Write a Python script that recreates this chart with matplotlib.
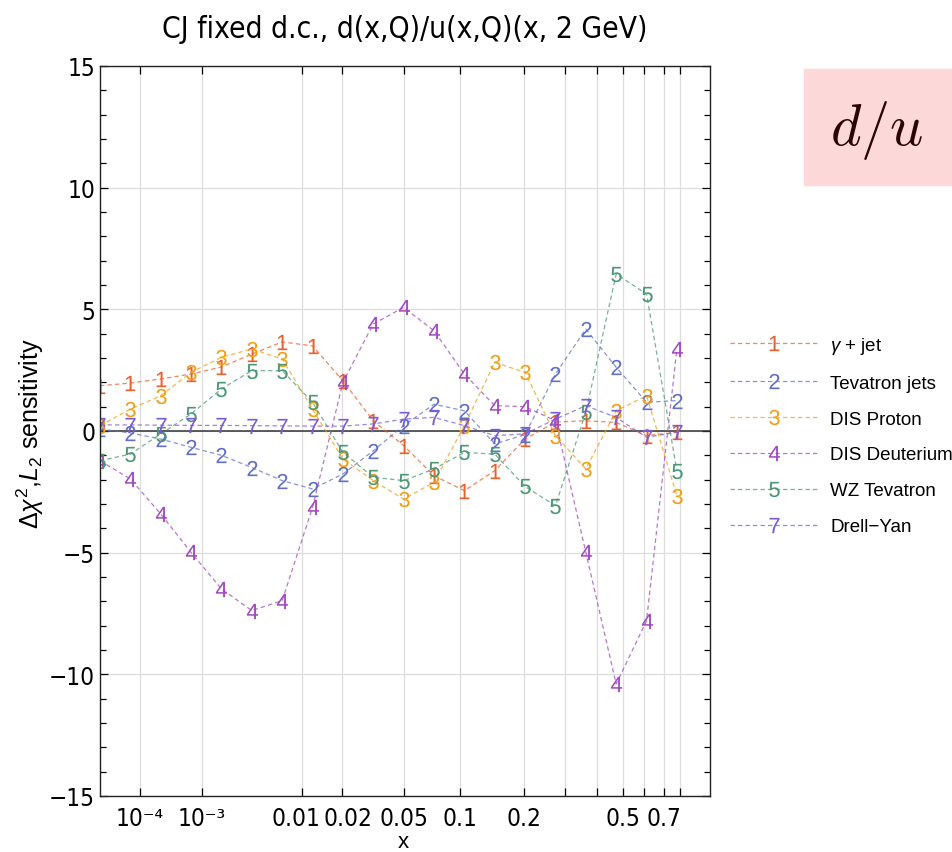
import matplotlib
matplotlib.use("Agg")
import matplotlib.pyplot as plt
from matplotlib.patches import Rectangle
from matplotlib.transforms import ScaledTranslation
import numpy as np

plt.rcParams['mathtext.fontset'] = 'custom'
plt.rcParams['mathtext.rm'] = 'Liberation Sans'
plt.rcParams['mathtext.it'] = 'Liberation Sans:italic'
REGULAR = ['Liberation Sans', 'DejaVu Sans']

# --- data (20 points on the x grid, plotted by index) ---
gamma_jet = [1.86, 1.97, 2.14, 2.34, 2.63, 3.16, 3.66, 3.50, 2.06, 0.42,
             -0.60, -1.84, -2.45, -1.63, -0.33, 0.37, 0.42, 0.35, -0.19, -0.05]
tevatron_jets = [0.08, -0.08, -0.33, -0.67, -1.00, -1.50, -2.04, -2.38, -1.77, -0.81,
                 0.22, 1.10, 0.83, -0.53, -0.15, 2.34, 4.19, 2.62, 1.18, 1.25]
dis_proton = [0.22, 0.90, 1.45, 2.41, 3.03, 3.37, 2.96, 0.90, -1.15, -2.04,
              -2.80, -2.11, 0.22, 2.82, 2.41, -0.19, -1.56, 0.83, 1.45, -2.66]
dis_deuterium = [-1.22, -1.97, -3.41, -4.99, -6.49, -7.38, -6.97, -3.14, 2.00, 4.40,
                 5.08, 4.12, 2.34, 1.04, 1.00, 0.42, -4.98, -10.40, -7.80, 3.37]
wz_tevatron = [-1.22, -0.95, -0.12, 0.70, 1.73, 2.48, 2.48, 1.18, -0.88, -1.90,
               -2.04, -1.56, -0.88, -0.95, -2.28, -3.07, 0.77, 6.45, 5.63, -1.63]
drell_yan = [0.25, 0.25, 0.24, 0.23, 0.23, 0.22, 0.21, 0.20, 0.20, 0.29,
             0.49, 0.56, 0.22, -0.19, -0.12, 0.49, 1.04, 0.56, -0.26, -0.05]

series = [
    ('1', r'$\gamma$ + jet', gamma_jet, '#E8602C'),
    ('2', 'Tevatron jets', tevatron_jets, '#5F6FC8'),
    ('3', 'DIS Proton', dis_proton, '#F49E12'),
    ('4', 'DIS Deuterium', dis_deuterium, '#A247C0'),
    ('5', 'WZ Tevatron', wz_tevatron, '#4A9775'),
    ('7', 'Drell\u2212Yan', drell_yan, '#7B5BD8'),
]

# x axis labels placed along the point index
xtick_labels = ['10\u207b\u2074', '10\u207b\u00b3', '0.01', '0.02', '0.05', '0.1', '0.2', '0.5', '0.7']
xtick_pos = [1.32, 3.36, 6.65, 7.97, 10.01, 11.85, 13.96, 17.22, 18.57]
xminor_pos = [15.31, 16.36, 17.91, 19.10]

fig = plt.figure(figsize=(9.53, 8.53), dpi=100)
ax = fig.add_axes([100/953, 56/853, 610/953, 730/853])

idx = np.arange(len(gamma_jet))
for num, label, vals, col in series:
    rgba = matplotlib.colors.to_rgba(col, 0.75)
    ax.plot(idx, vals, ls=(0, (3.5, 2.5)), lw=0.9, color=rgba,
            marker='$%s$' % num, ms=11, mew=0, mfc=col, mec=col, label=label)

ax.axhline(0, color='#333333', lw=1.1, zorder=1)
ax.set_xlim(0, 20.09)
ax.set_ylim(-15, 15)

ax.set_xticks(xtick_pos)
ax.set_xticklabels(xtick_labels)
ax.set_xticks(xminor_pos, minor=True)
ax.set_yticks(np.arange(-15, 16, 5))
ax.set_yticks(np.arange(-15, 16, 1), minor=True)

ax.tick_params(which='both', direction='in', top=True, right=True, width=0.9)
ax.tick_params(which='major', length=6)
ax.tick_params(which='minor', length=4)
ax.tick_params(axis='x', which='minor', length=6)
ax.tick_params(axis='x', pad=7)

for tl in ax.get_yticklabels() + ax.get_xticklabels():
    tl.set_fontfamily(['DejaVu Sans'])
    tl.set_fontstretch('condensed')
    tl.set_fontsize(17.5)

# spread the crowded 0.01 / 0.02 labels a little, as in the original
xl = ax.get_xticklabels()
xl[2].set_transform(xl[2].get_transform() + ScaledTranslation(-6/100, 0, fig.dpi_scale_trans))
xl[3].set_transform(xl[3].get_transform() + ScaledTranslation(6/100, 0, fig.dpi_scale_trans))

ax.grid(True, which='both', axis='x', color='#dddddd', lw=0.9)
ax.grid(True, which='major', axis='y', color='#dddddd', lw=0.9)
ax.set_axisbelow(True)
for sp in ax.spines.values():
    sp.set_linewidth(1.0)
    sp.set_color('#222222')

fig.text(405/953, 1 - 30/853, 'CJ fixed d.c., d(x,Q)/u(x,Q)(x, 2 GeV)',
         ha='center', va='center', fontsize=21.5, family=['DejaVu Sans'], stretch='condensed')
fig.text(30/953, 1 - 434/853, r'$\Delta\chi^2$,$L_2$ sensitivity', rotation=90,
         ha='center', va='center', fontsize=18, family=REGULAR)
fig.text(403/953, 0, 'x', ha='center', va='bottom', fontsize=16, family=REGULAR)

leg = ax.legend(loc='center left', bbox_to_anchor=(730/953, 1 - 436/853),
                bbox_transform=fig.transFigure, frameon=False,
                handlelength=4.7, handletextpad=0.65, labelspacing=1.0,
                borderpad=0, borderaxespad=0, prop={'family': REGULAR, 'size': 13.5})

fig.patches.append(Rectangle((804/953, 1 - 186/853), 149/953, 116/853,
                             transform=fig.transFigure, color='#FDD8D8', zorder=0))
fig.text(877/953, 1 - 130/853, r'$d/u$', ha='center', va='center', fontsize=42,
         math_fontfamily='cm', color='#2a0505')

fig.savefig('out.png', dpi=100)
